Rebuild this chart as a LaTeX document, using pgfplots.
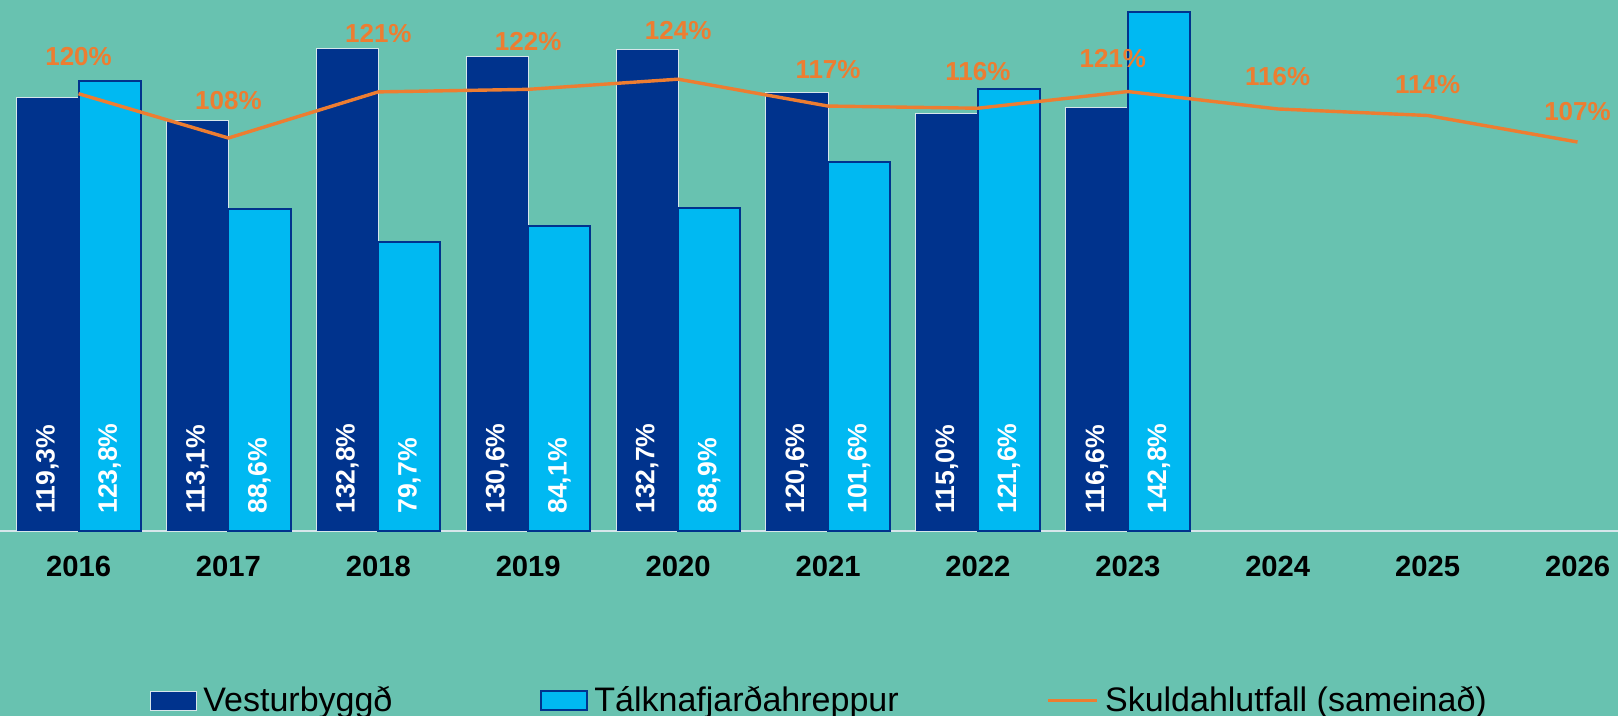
\documentclass[border=0pt]{standalone}
\usepackage{fontspec}
\setmainfont{Liberation Sans}
\usepackage{pgfplots}
\usepackage{pgfplotstable}
\pgfplotsset{compat=1.18}
\definecolor{bg}{RGB}{104,194,176}
\definecolor{dblue}{RGB}{0,51,141}
\definecolor{lblue}{RGB}{0,185,242}
\definecolor{orng}{RGB}{237,125,49}
\definecolor{edge}{RGB}{215,230,235}

\pgfplotsset{
  barleg/.style={legend image code/.code={\draw[##1] (0pt,-4.75pt) rectangle (23pt,4.75pt);}},
  lineleg/.style={legend image code/.code={\draw[##1] (0pt,0pt) -- (24.5pt,0pt);}},
}

\pgfplotstableread{
x v
0 119.3
1 113.1
2 132.8
3 130.6
4 132.7
5 120.6
6 115.0
7 116.6
}\vest

\pgfplotstableread{
x v
0 123.8
1 88.6
2 79.7
3 84.1
4 88.9
5 101.6
6 121.6
7 142.8
}\talk

\pgfplotstableread{
x v
0 120.4
1 108.2
2 120.9
3 121.6
4 124.4
5 117.0
6 116.4
7 121.0
8 116.2
9 114.4
10 107.1
}\skuld

\pgfplotstableread{
lx ly lab
0 130.7 120
1 118.5 108
2 136.9 121
3 134.9 122
4 137.8 124
5 127.0 117
6 126.4 116
6.9 130.1 121
8 125.0 116
9 123.0 114
10 115.6 107
}\skuldlab

\begin{document}
\begin{tikzpicture}
\useasboundingbox (0,0) rectangle (809pt,-358pt);
\clip (0,0) rectangle (809pt,-358pt);
\fill[bg] (0,0) rectangle (809pt,-358pt);
\begin{axis}[
  at={(0pt,-265.5pt)}, anchor=south west,
  scale only axis, width=809pt, height=265.5pt,
  xmin=-0.524, xmax=10.27, ymin=0, ymax=146.2,
  clip=false,
  /pgf/number format/assume math mode=true,
  axis x line*=bottom, hide y axis,
  x axis line style={draw=edge, line width=0.6pt, -},
  xtick={0,1,2,3,4,5,6,7,8,9,10},
  xticklabels={2016,2017,2018,2019,2020,2021,2022,2023,2024,2025,2026},
  major tick length=0pt,
  xticklabel style={font=\fontsize{14.6}{16}\selectfont\bfseries, anchor=center, yshift=-17.8pt},
  legend style={at={(0.0927,-0.3196)}, anchor=west, draw=none, fill=none, inner sep=0pt,
    font=\fontsize{17}{19}\selectfont,
    /tikz/every even column/.append style={column sep=74pt},
    /tikz/every odd column/.append style={column sep=3pt},
    cells={anchor=west}, nodes={inner sep=0pt}},
  legend columns=3,
]
\addplot[ybar, bar width=0.414, bar shift=-0.207, fill=dblue, draw=edge, line width=0.5pt, barleg]
  table[x=x,y=v] {\vest};
\addlegendentry{Vesturbyggð}
\addplot[ybar, bar width=0.414, bar shift=0.207, fill=lblue, draw=dblue, line width=1pt, barleg]
  table[x=x,y=v] {\talk};
\addlegendentry{Tálknafjarðahreppur}
\addplot[orng, line width=1.7pt, mark=none, lineleg]
  table[x=x,y=v] {\skuld};
\addlegendentry{Skuldahlutfall (sameinað)}

\addplot[forget plot, draw=none, mark=none, point meta=explicit,
  nodes near coords={\pgfmathprintnumber[fixed,fixed zerofill,precision=1,use comma]{\pgfplotspointmeta}\%},
  nodes near coords style={rotate=90, anchor=west, text=white, inner xsep=8.5pt, inner ysep=0pt,
    font=\fontsize{13.3}{15}\selectfont\bfseries}]
  table[x expr=\thisrow{x}-0.207, y expr=0, meta=v] {\vest};
\addplot[forget plot, draw=none, mark=none, point meta=explicit,
  nodes near coords={\pgfmathprintnumber[fixed,fixed zerofill,precision=1,use comma]{\pgfplotspointmeta}\%},
  nodes near coords style={rotate=90, anchor=west, text=white, inner xsep=8.5pt, inner ysep=0pt,
    font=\fontsize{13.3}{15}\selectfont\bfseries}]
  table[x expr=\thisrow{x}+0.207, y expr=0, meta=v] {\talk};

\addplot[forget plot, draw=none, mark=none, point meta=explicit,
  nodes near coords={\pgfmathprintnumber[fixed,precision=0]{\pgfplotspointmeta}\%},
  nodes near coords style={anchor=center, text=orng, inner sep=0pt,
    font=\fontsize{13}{15}\selectfont\bfseries}]
  table[x=lx, y=ly, meta=lab] {\skuldlab};
\end{axis}
\end{tikzpicture}
\end{document}
